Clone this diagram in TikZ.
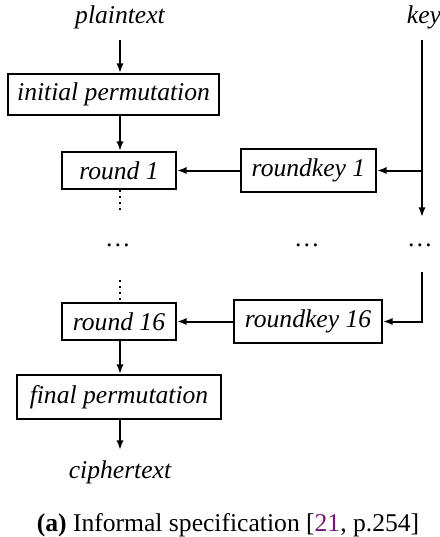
\documentclass[tikz,border=0pt]{standalone}
\usepackage{fontspec}
\setmainfont{Liberation Serif}
\usepackage{xcolor}
\usepackage{tikz}
\usetikzlibrary{positioning,calc,arrows.meta}
\definecolor{citepurple}{cmyk}{0.55,1,0,0.15}

\begin{document}
\begin{tikzpicture}[x=0.5pt,y=-0.5pt,
    blk/.style={draw, line width=1pt, inner sep=1pt, font=\itshape},
    arr/.style={line width=1pt, -{Latex[length=4.8pt,width=3.6pt]}},
    dotline/.style={line width=1pt, dotted}]
    \useasboundingbox (0,0) rectangle (440,537);
    \fontsize{12.8}{15}\selectfont

    % inputs
    \node[font=\itshape] (pt) at (120,17) {plaintext};
    \node[font=\itshape] (key) at (424,17) {key};

    % left column
    \node[blk, minimum width=105.5pt, minimum height=20.5pt] (ip) at (113.5,94.5) {initial permutation};
    \node[blk, minimum width=57pt, minimum height=18.5pt] (r1) at (119,170.5) {round 1};
    \node (ldots) at (118,245) {\dots};
    \node[blk, minimum width=57pt, minimum height=18.5pt] (r16) at (119,321.5) {round 16};
    \node[blk, minimum width=102pt, minimum height=22pt] (fp) at (119,397) {final permutation};
    \node[font=\itshape] (ct) at (120,472) {ciphertext};

    % key schedule
    \node[blk, minimum width=67.5pt, minimum height=21.5pt] (rk1) at (308.5,170.5) {roundkey 1};
    \node (mdots) at (307,245) {\dots};
    \node[blk, minimum width=74pt, minimum height=21.5pt] (rk16) at (308,321.5) {roundkey 16};
    \node (kdots) at (420,245) {\dots};

    \coordinate (k1) at (422,170.5);
    \coordinate (k16) at (422,321.5);
    \coordinate (d1) at (120,211);
    \coordinate (d2) at (120,280);

    % data path
    \draw[arr] (d1 |- 0,40) -- (d1 |- ip.north);
    \draw[arr] (d1 |- ip.south) -- (d1 |- r1.north);
    \draw[dotline] (d1 |- r1.south) -- (d1);
    \draw[dotline] (d2) -- (d2 |- r16.north);
    \draw[arr] (d2 |- r16.south) -- (d2 |- fp.north);
    \draw[arr] (d2 |- fp.south) -- (d2 |- 0,450);

    % round keys
    \draw[arr] (k1 |- 0,40) -- (k1) -- (rk1);
    \draw[arr] (k1) -- (k1 |- 0,217);
    \draw[arr] (k16 |- 0,272) -- (k16) -- (rk16);
    \draw[arr] (rk1) -- (r1);
    \draw[arr] (rk16) -- (r16);

    % caption
    \node (cap) at (228,525) {\textbf{(a)} Informal specification [\textcolor{citepurple}{21}, p.254]};
\end{tikzpicture}
\end{document}
